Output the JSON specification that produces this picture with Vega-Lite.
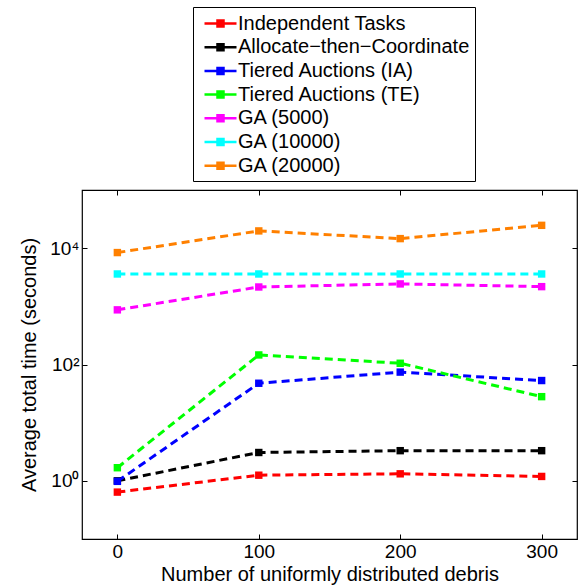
{
  "$schema": "https://vega.github.io/schema/vega-lite/v6.json",
  "width": 495,
  "height": 349,
  "autosize": {"type": "none"},
  "padding": {"left": 82, "top": 190, "right": 9, "bottom": 48},
  "background": "white",
  "config": {
    "font": "Liberation Sans",
    "view": {"stroke": "black", "strokeWidth": 1.2},
    "axis": {
      "domain": false,
      "grid": false,
      "tickColor": "black",
      "tickSize": -5,
      "tickWidth": 1,
      "labelColor": "black",
      "labelFontSize": 19,
      "labelPadding": 8,
      "titleColor": "black",
      "titleFontSize": 20,
      "titleFontWeight": "normal"
    }
  },
  "data": {
    "values": [
      {"series": "Independent Tasks", "debris": 0, "time": 0.64},
      {"series": "Independent Tasks", "debris": 100, "time": 1.25},
      {"series": "Independent Tasks", "debris": 200, "time": 1.32},
      {"series": "Independent Tasks", "debris": 300, "time": 1.19},
      {"series": "Allocate−then−Coordinate", "debris": 0, "time": 1.0},
      {"series": "Allocate−then−Coordinate", "debris": 100, "time": 3.07},
      {"series": "Allocate−then−Coordinate", "debris": 200, "time": 3.3},
      {"series": "Allocate−then−Coordinate", "debris": 300, "time": 3.3},
      {"series": "Tiered Auctions (IA)", "debris": 0, "time": 0.98},
      {"series": "Tiered Auctions (IA)", "debris": 100, "time": 47.6},
      {"series": "Tiered Auctions (IA)", "debris": 200, "time": 74},
      {"series": "Tiered Auctions (IA)", "debris": 300, "time": 53},
      {"series": "Tiered Auctions (TE)", "debris": 0, "time": 1.68},
      {"series": "Tiered Auctions (TE)", "debris": 100, "time": 146},
      {"series": "Tiered Auctions (TE)", "debris": 200, "time": 105},
      {"series": "Tiered Auctions (TE)", "debris": 300, "time": 28},
      {"series": "GA (5000)", "debris": 0, "time": 870},
      {"series": "GA (5000)", "debris": 100, "time": 2150},
      {"series": "GA (5000)", "debris": 200, "time": 2430},
      {"series": "GA (5000)", "debris": 300, "time": 2180},
      {"series": "GA (10000)", "debris": 0, "time": 3600},
      {"series": "GA (10000)", "debris": 100, "time": 3600},
      {"series": "GA (10000)", "debris": 200, "time": 3600},
      {"series": "GA (10000)", "debris": 300, "time": 3600},
      {"series": "GA (20000)", "debris": 0, "time": 8400},
      {"series": "GA (20000)", "debris": 100, "time": 19800},
      {"series": "GA (20000)", "debris": 200, "time": 14600},
      {"series": "GA (20000)", "debris": 300, "time": 24700}
    ]
  },
  "layer": [
    {
      "mark": {
        "type": "line",
        "strokeWidth": 3,
        "strokeDash": [8, 5],
        "point": {"shape": "square", "size": 55, "filled": true}
      },
      "encoding": {
        "x": {
          "field": "debris",
          "type": "quantitative",
          "scale": {"domain": [-25, 325], "nice": false, "zero": false},
          "axis": {"values": [0, 100, 200, 300], "title": "Number of uniformly distributed debris", "titlePadding": 3}
        },
        "y": {
          "field": "time",
          "type": "quantitative",
          "scale": {"type": "log", "domain": [0.1, 100000], "nice": false},
          "axis": {
            "values": [1, 100, 10000],
            "labelExpr": "datum.value == 1 ? '10⁰' : datum.value == 100 ? '10²' : '10⁴'",
            "title": "Average total time (seconds)",
            "titlePadding": 10
          }
        },
        "color": {
          "field": "series",
          "type": "nominal",
          "sort": ["Independent Tasks", "Allocate−then−Coordinate", "Tiered Auctions (IA)", "Tiered Auctions (TE)", "GA (5000)", "GA (10000)", "GA (20000)"],
          "scale": {
            "domain": ["Independent Tasks", "Allocate−then−Coordinate", "Tiered Auctions (IA)", "Tiered Auctions (TE)", "GA (5000)", "GA (10000)", "GA (20000)"],
            "range": ["#ff0000", "#000000", "#0000ff", "#00ff00", "#ff00ff", "#00ffff", "#ff8000"]
          },
          "legend": {
            "title": null,
            "orient": "none",
            "legendX": 111,
            "legendY": -183,
            "strokeColor": "black",
            "fillColor": "white",
            "padding": 5,
            "labelFontSize": 20,
            "labelColor": "black",
            "labelLimit": 400,
            "labelOffset": 17,
            "rowPadding": 1.7,
            "symbolType": "M-0.5,0L2.7,0M0.8,-0.3L1.4,-0.3L1.4,0.3L0.8,0.3Z",
            "symbolSize": 400,
            "symbolStrokeWidth": 2.5,
            "symbolFillColor": "white",
            "symbolDash": [],
            "symbolOpacity": 1
          }
        }
      }
    },
    {
      "mark": {"type": "point", "opacity": 0},
      "encoding": {
        "x": {
          "field": "debris",
          "type": "quantitative",
          "scale": {"domain": [-25, 325], "nice": false, "zero": false},
          "axis": {"orient": "top", "values": [0, 100, 200, 300], "labels": false, "title": null}
        },
        "y": {
          "field": "time",
          "type": "quantitative",
          "scale": {"type": "log", "domain": [0.1, 100000], "nice": false},
          "axis": {"orient": "right", "values": [1, 100, 10000], "labels": false, "title": null}
        }
      }
    }
  ],
  "resolve": {"axis": {"x": "independent", "y": "independent"}}
}
